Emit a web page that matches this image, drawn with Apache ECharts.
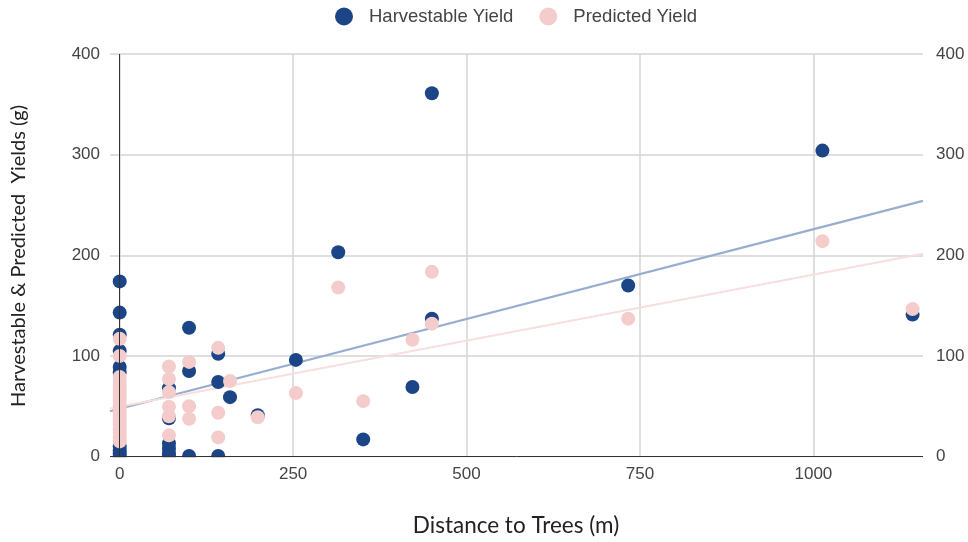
<!DOCTYPE html>
<html>
<head>
<meta charset="utf-8">
<script src="https://cdn.jsdelivr.net/npm/echarts@6/dist/echarts.min.js"></script>
<style>
html,body{margin:0;padding:0;background:#fff;}
#chart{width:968px;height:542px;}
</style>
</head>
<body>
<div id="chart"></div>
<script>
// Harvestable yield points: [distance, yield]
const harvestX = [0,0,0,0,0,0,0,0,0,0, 71,71,71,71,71,71, 100,100,100, 142,142,142, 159, 199, 254, 315, 351, 422, 450,450, 733, 1013, 1143];
const harvestY = [174,143,121,105,89,84,10,6,3,0.5, 68,38,13,8,3,0.5, 128,85,0.5, 102,74,0.5, 59, 41, 96, 203, 17, 69, 361,137, 170, 304, 141];
// Predicted yield points
const predX = [0,0,0,0,0,0,0,0,0,0,0,0,0,0,0,0,0,0,0, 71,71,71,71,71,71, 100,100,100, 142,142,142, 159, 199, 254, 315, 351, 422, 450,450, 733, 1013, 1143];
const predY = [117,100,79,75,71,67,63,59,55,51,47,43,39,35,31,27,23,19,15, 89.5,77,64,49.5,40,21, 94,50,37.5, 108,43.5,19, 75, 39, 63, 168, 55, 116, 183.5,132, 137, 214, 146.5];
// Trendlines (endpoints)
const trendX = [-14, 1158];
const harvestTrend = [45, 254];
const predTrend = [47.7, 201.5];
// Tick labels
const xTicks = [0, 250, 500, 750, 1000];
const yTicks = [0, 100, 200, 300, 400];

const zip = (xs, ys) => xs.map((x, i) => [x, ys[i]]);

const chart = echarts.init(document.getElementById('chart'));
const labelFont = {fontFamily: 'Liberation Sans, Arial, sans-serif', fontSize: 17, color: '#444'};
const plainLine = (data, color) => ({
  silent: true, symbol: ['none', 'none'], animation: false,
  label: {show: false}, lineStyle: {color: color, width: 1, type: 'solid'},
  emphasis: {disabled: true}, data: data
});
chart.setOption({
  animation: false,
  backgroundColor: '#fff',
  legend: {
    left: 330, top: 2,
    itemWidth: 18, itemHeight: 18, itemGap: 26,
    icon: 'circle',
    textStyle: {fontFamily: 'Liberation Sans, Arial, sans-serif', fontSize: 18.5, color: '#444', padding: [0,0,0,11]},
    data: ['Harvestable Yield', 'Predicted Yield']
  },
  grid: {left: 110, right: 45, top: 54, bottom: 85.5},
  xAxis: {
    type: 'value', min: -14, max: 1158,
    axisLine: {show: false, onZero: false},
    axisTick: {show: false, customValues: xTicks},
    axisLabel: Object.assign({margin: 9, customValues: xTicks, formatter: v => String(v)}, labelFont),
    splitLine: {show: true, lineStyle: {color: '#d4d4d4', width: 1.5}}
  },
  yAxis: [{
    type: 'value', min: 0, max: 400, interval: 100,
    axisLine: {show: false, onZero: false},
    axisTick: {show: false},
    axisLabel: Object.assign({margin: 10, customValues: yTicks}, labelFont),
    splitLine: {show: true, lineStyle: {color: '#d4d4d4', width: 1.5}}
  }, {
    type: 'value', min: 0, max: 400, interval: 100, position: 'right',
    axisLine: {show: false, onZero: false},
    axisTick: {show: false},
    axisLabel: Object.assign({margin: 13, customValues: yTicks}, labelFont),
    splitLine: {show: false}
  }],
  series: [{
    name: 'Harvestable trend', type: 'line', data: zip(trendX, harvestTrend),
    symbol: 'none', lineStyle: {color: '#98add0', width: 2.2}, z: 1, silent: true,
    markLine: plainLine([{xAxis: 0}], '#333')
  }, {
    name: 'Predicted trend', type: 'line', data: zip(trendX, predTrend),
    symbol: 'none', lineStyle: {color: '#f9dede', width: 2.2}, z: 1, silent: true
  }, {
    name: 'Harvestable Yield', type: 'scatter', data: zip(harvestX, harvestY),
    symbolSize: 14, itemStyle: {color: '#1c4587', opacity: 1}, z: 2
  }, {
    name: 'Predicted Yield', type: 'scatter', data: zip(predX, predY),
    symbolSize: 14, itemStyle: {color: '#f4cccc', opacity: 1}, z: 3
  }, {
    name: 'x axis line', type: 'line', data: [], z: 6, silent: true,
    markLine: plainLine([{yAxis: 0}], '#333')
  }],
  graphic: [{
    type: 'rect', z: 5, shape: {x: 100, y: 457.2, width: 830, height: 8}, style: {fill: '#fff'}
  }, {
    type: 'text', z: 10, x: 516, y: 526,
    style: {text: 'Distance to Trees (m)', font: '22.5px Lato, "Open Sans", sans-serif', fill: '#222', align: 'center', verticalAlign: 'middle'}
  }, {
    type: 'text', z: 10, x: 9, y: 256, rotation: Math.PI / 2,
    style: {text: 'Harvestable & Predicted  Yields (g)', font: '20px Lato, "Open Sans", sans-serif', fill: '#222', align: 'center', verticalAlign: 'top'}
  }]
});
</script>
</body>
</html>
